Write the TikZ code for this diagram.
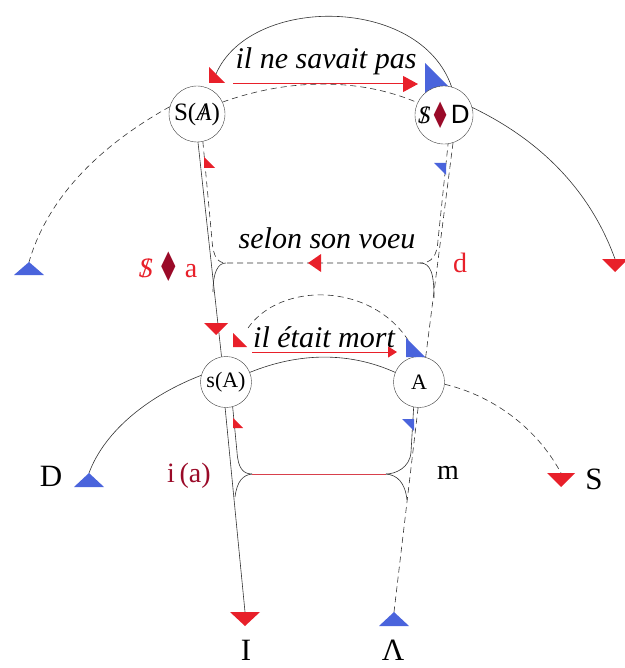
\documentclass[tikz,border=0pt]{standalone}
\usepackage{fontspec}
\setmainfont{Liberation Serif}
\newfontfamily\symfont{DejaVu Sans}
\usetikzlibrary{arrows.meta}
\definecolor{lacRed}{HTML}{E8202A}
\definecolor{lacBlue}{HTML}{4A64DC}
\definecolor{lacWine}{HTML}{9A0A28}
\definecolor{lacPink}{HTML}{D8404C}
\tikzset{
  vertex/.style={circle, draw=black!75, fill=white, minimum size=56pt,
              inner sep=0pt, font=\fontsize{25}{26}\selectfont},
  small vertex/.style={vertex, minimum size=51pt, font=\fontsize{22}{23}\selectfont},
  chain/.style={draw=black!80, line width=0.6pt},
  dchain/.style={chain, dashed, dash pattern=on 6pt off 4pt},
  tag/.style={font=\fontsize{30}{31}\selectfont\itshape, inner sep=0pt},
  lbl/.style={font=\fontsize{28}{29}\selectfont, inner sep=0pt},
  big/.style={font=\fontsize{31}{33}\selectfont, inner sep=0pt},
  says/.style={draw=lacRed, line width=1pt},
}
\newcommand{\barred}[1]{\ooalign{#1\cr\hidewidth/\hidewidth}}
\newcommand{\lozenge}{{\color{lacWine}\raisebox{-0.17em}{\scalebox{0.9}[1.45]{\symfont ♦}}}}
\newcommand{\tridown}[4]{\fill[#1] (#2) ++(-#3,0) -- ++(2*#3,0) -- ++(-#3,#4) -- cycle;}
\newcommand{\triup}[4]{\fill[#1] (#2) -- ++(-#3,#4) -- ++(2*#3,0) -- cycle;}
\newcommand{\flagdl}[3]{\fill[#1] (#2) -- ++(0,#3) -- ++(#3,0) -- cycle;}
\newcommand{\flagur}[3]{\fill[#1] (#2) -- ++(-#3,0) -- ++(#3,#3) -- cycle;}

\begin{document}
\begin{tikzpicture}[x=1pt,y=-1pt]
  \useasboundingbox (0,0) rectangle (624,668);
  % blue head under the upper right circle
  \coordinate (hSD) at (425,63);
  \flagdl{lacBlue}{hSD}{32}
  % the four crossings
  \node[vertex] (SA) at (197,114) {S(\barred{\itshape A})};
  \node[vertex] (SD) at (444,115) {\barred{\itshape S}\lozenge{\symfont D}};
  \node[small vertex] (sA) at (226,382) {s(A)};
  \node[small vertex] (A) at (419,382) {A};

  % upper level
  \coordinate (hSA) at (209,67);
  \draw[chain] (SD.75) .. controls (420,-5) and (250,-5) .. (216,74);
  \flagdl{lacRed}{hSA}{16}
  \node[tag] (savait) at (326,61) {il ne savait pas};
  \draw[says,-{Triangle[length=15pt,width=16pt]}] (233,84) -- (418,84);
  \draw[dchain] (SA.25) .. controls (290,78) and (360,78) .. (SD.155);
  \coordinate (tipTL) at (29,262);
  \coordinate (tipTR) at (615,259);
  \draw[dchain] (SA.165) .. controls (110,140) and (50,190) .. (tipTL);
  \triup{lacBlue}{tipTL}{15}{13}
  \draw[chain] (SD.15) .. controls (540,140) and (590,190) .. (tipTR);
  \tridown{lacRed}{tipTR}{13}{13}

  % desire line with its brace ends
  \coordinate (J1) at (226,263);
  \coordinate (J2) at (420,263);
  \draw[dchain] (SA.-78) -- (212,240) .. controls (213,257) and (218,263) .. (J1)
     -- (J2) .. controls (432,263) and (437,256) .. (438,240) -- (SD.-82);
  \draw[chain] (J1) .. controls (218,263) and (213,272) .. (213,292);
  \draw[chain] (J2) .. controls (431,263) and (434,274) .. (434,298);
  \coordinate (mVoeu) at (308,263);
  \fill[lacRed] (mVoeu) -- ++(13,-9) -- ++(0,18) -- cycle;
  \node[tag] (voeu) at (327,238) {selon son voeu};
  \coordinate (fSA) at (204,157);
  \flagdl{lacRed}{fSA}{11}
  \coordinate (fSD) at (446,163);
  \flagur{lacBlue}{fSD}{12}
  \draw[chain] (SA.-88) -- (sA.100);
  \coordinate (hsA) at (216,323);
  \tridown{lacRed}{hsA}{12}{12}
  \draw[dchain] (SD.-72) -- (A.75);
  \node[lbl,text=lacRed] (fant) at (168,267) {\barred{\itshape S}\,\lozenge\,a};
  \node[lbl,text=lacRed] (dlbl) at (460,263) {d};

  % lower level
  \draw[chain] (sA.22) .. controls (300,352) and (350,352) .. (A.158);
  \draw[dchain] (248,328) .. controls (280,282) and (370,282) .. (408,340);
  \coordinate (hlA) at (233,333);
  \flagdl{lacRed}{hlA}{14}
  \coordinate (hlB) at (406,338);
  \flagdl{lacBlue}{hlB}{19}
  \node[tag] (mort) at (324,337) {il était mort};
  \draw[says,-{Triangle[length=9pt,width=11pt]}] (252,352) -- (397,352);

  \coordinate (K1) at (252,474);
  \coordinate (K2) at (386,474);
  \coordinate (tipI) at (245,612);
  \coordinate (tipL) at (394,612);
  \draw[chain] (sA.-92) -- (tipI);
  \tridown{lacRed}{tipI}{15}{14}
  \draw[chain] (sA.-75) -- (237,452) .. controls (238,468) and (243,474) .. (K1);
  \draw[chain] (K1) .. controls (243,475) and (237,481) .. (235,497);
  \draw[draw=lacPink, line width=0.9pt] (K1) -- (K2);
  \draw[chain] (A.-102) -- (411,452) .. controls (410,468) and (395,474) .. (K2);
  \draw[chain] (K2) .. controls (397,475) and (405,482) .. (407,500);
  \draw[dchain] (A.-92) -- (tipL);
  \triup{lacBlue}{tipL}{15}{14}
  \coordinate (fsA) at (233,418);
  \flagdl{lacRed}{fsA}{10}
  \coordinate (fA) at (414,419);
  \flagur{lacBlue}{fA}{12}
  \node[lbl,text=lacWine] (ia) at (189,476) {i\,(a)};
  \node[lbl] (mlbl) at (448,473) {m};

  \coordinate (tipD) at (89,473);
  \coordinate (tipS) at (561,473);
  \draw[chain] (sA.165) .. controls (150,395) and (105,430) .. (tipD);
  \triup{lacBlue}{tipD}{15}{14}
  \draw[dchain] (A.-5) .. controls (490,395) and (535,425) .. (tipS);
  \tridown{lacRed}{tipS}{14}{14}
  \node[big] (Dl) at (51,476) {D};
  \node[big] (Sl) at (594,479) {S};
  \node[big] (Il) at (246,650) {I};
  \node[big] (Ll) at (393,650) {Λ};
\end{tikzpicture}
\end{document}
